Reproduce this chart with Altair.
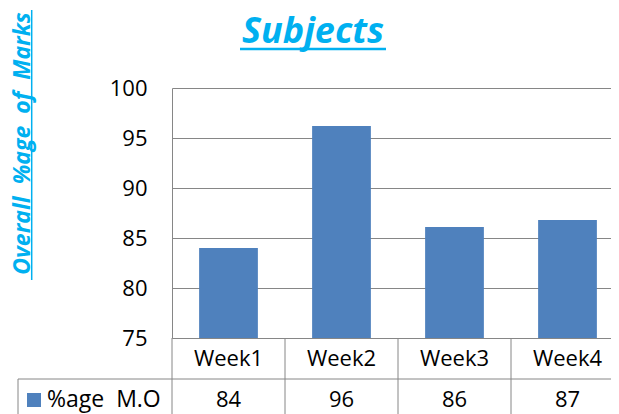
import altair as alt
import pandas as pd

# ---- data ----
weeks = ["Week1", "Week2", "Week3", "Week4"]
values = [84.0, 96.2, 86.1, 86.8]
table_values = ["84", "96", "86", "87"]
y_ticks = [75, 80, 85, 90, 95, 100]
series_name = "%age\u00a0 M.O"
chart_title = "Subjects"
y_title = "Overall\u00a0 %age\u00a0 of\u00a0 Marks"

df = pd.DataFrame({"week": weeks, "value": values, "label": table_values})
one = pd.DataFrame({"k": [0]})

BLUE = "#4F81BD"
TITLE = "#00B0F0"
GRID = "#868686"
FONT = "Open Sans"
W, H = 452, 250
ROW_Y = 312

xscale = alt.Scale(domain=weeks, paddingInner=0, paddingOuter=0)
yscale = alt.Scale(domain=[75, 100])

base = alt.Chart(df)

bars = base.mark_bar(color=BLUE, width=alt.RelativeBandSize(0.52)).encode(
    x=alt.X("week:N", scale=xscale, sort=weeks,
            axis=alt.Axis(title=None, orient="bottom", ticks=False, tickSize=0,
                          labelPadding=20, labelBaseline="middle", labelAngle=0,
                          labelFont=FONT, labelFontSize=22, labelColor="black",
                          domainColor=GRID, domainWidth=1, grid=False)),
    y=alt.Y("value:Q", scale=yscale,
            axis=alt.Axis(title=None, values=y_ticks, ticks=False, tickSize=0,
                          labelPadding=25, labelFont=FONT, labelFontSize=22,
                          labelColor="black", domainColor=GRID, domainWidth=1,
                          grid=True, gridColor=GRID, gridWidth=1)),
    y2=alt.datum(75),
)

vals = base.mark_text(font=FONT, fontSize=22, color="black", baseline="middle").encode(
    x=alt.X("week:N", scale=xscale, sort=weeks),
    y=alt.value(ROW_Y),
    text="label:N",
)

dividers = base.mark_rule(color=GRID, strokeWidth=1).encode(
    x=alt.X("week:N", scale=xscale, sort=weeks, bandPosition=0),
    y=alt.value(250),
    y2=alt.value(330),
)

o = alt.Chart(one)
hline = o.mark_rule(color=GRID, strokeWidth=1).encode(
    x=alt.value(-154), x2=alt.value(W), y=alt.value(291))
vleft = o.mark_rule(color=GRID, strokeWidth=1).encode(
    x=alt.value(-154), y=alt.value(291), y2=alt.value(330))

legend_sq = o.mark_rect(color=BLUE).encode(
    x=alt.value(-145), x2=alt.value(-131), y=alt.value(ROW_Y - 7), y2=alt.value(ROW_Y + 7))
legend_txt = o.mark_text(text=series_name, font=FONT, fontSize=23, color="black",
                         align="left", baseline="middle").encode(
    x=alt.value(-125), y=alt.value(ROW_Y))

title_txt = o.mark_text(text=chart_title, font=FONT, fontSize=36, fontStyle="italic",
                        fontWeight="bold", color=TITLE, align="center",
                        baseline="alphabetic").encode(x=alt.value(141), y=alt.value(-45))
title_ul = o.mark_rule(color=TITLE, strokeWidth=2.5).encode(
    x=alt.value(68), x2=alt.value(214), y=alt.value(-39))

ytitle_txt = o.mark_text(text=y_title, angle=270, font=FONT, fontSize=23,
                         fontStyle="italic", fontWeight="bold", color=TITLE,
                         align="center", baseline="alphabetic").encode(
    x=alt.value(-142), y=alt.value(55.5))
ytitle_ul = o.mark_rule(color=TITLE, strokeWidth=1.5).encode(
    x=alt.value(-140.3), y=alt.value(-78), y2=alt.value(192))

chart = alt.layer(
    bars, dividers, vals, hline, vleft, legend_sq, legend_txt,
    title_txt, title_ul, ytitle_txt, ytitle_ul,
).properties(
    width=W, height=H,
    padding={"left": 164, "top": 80, "right": -13, "bottom": 76},
    autosize=alt.AutoSizeParams(type="none"),
).configure_view(strokeWidth=0)

chart.save("out.html", embed_options={"renderer": "svg", "actions": False})
